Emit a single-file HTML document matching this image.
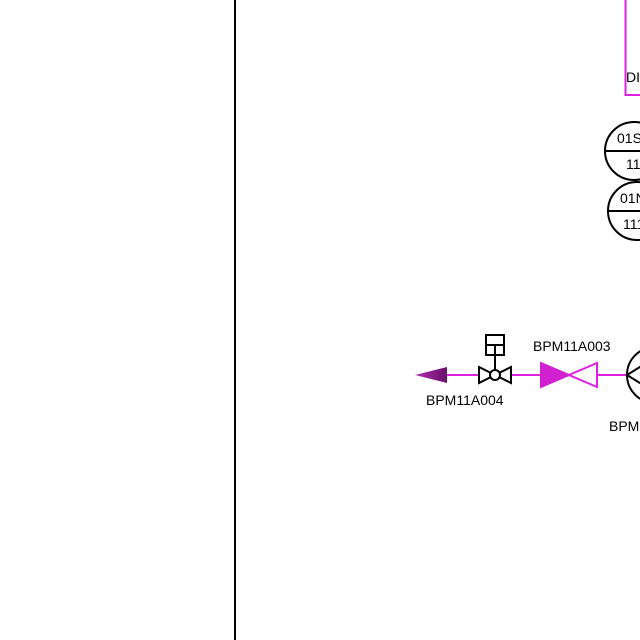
<!DOCTYPE html>
<html><head><style>body{margin:0;background:#fff}svg{display:block}</style></head><body>
<svg width="640" height="640" viewBox="0 0 640 640" xmlns="http://www.w3.org/2000/svg" font-family="Liberation Sans, sans-serif" font-size="14">
<line x1="235" y1="0" x2="235" y2="640" stroke="#000" stroke-width="2"/>
<path d="M640 95 H625.5 V0" fill="none" stroke="#e020e0" stroke-width="2"/>
<text x="626" y="82" font-size="14">DI</text>
<circle cx="634" cy="151" r="29" fill="#fff" stroke="#000" stroke-width="2"/>
<line x1="605" y1="151" x2="640" y2="151" stroke="#000" stroke-width="2"/>
<text x="617" y="143" font-size="14">01S</text>
<text x="626" y="169" font-size="14">11</text>
<circle cx="637" cy="211" r="29" fill="#fff" stroke="#000" stroke-width="2"/>
<line x1="608" y1="211" x2="640" y2="211" stroke="#000" stroke-width="2"/>
<text x="620" y="203" font-size="14">01N</text>
<text x="623" y="229" font-size="14">111</text>
<line x1="447" y1="375" x2="627" y2="375" stroke="#e020e0" stroke-width="2"/>
<defs><linearGradient id="g" x1="0" x2="1"><stop offset="0" stop-color="#b030b0"/><stop offset="1" stop-color="#6a106a"/></linearGradient></defs>
<path d="M415 375 L447 367 L447 383 Z" fill="url(#g)"/>
<path d="M479 367 L479 383 L511 367 L511 383 Z" fill="#fff" stroke="#000" stroke-width="2"/>
<circle cx="495" cy="375" r="5" fill="#fff" stroke="#000" stroke-width="2"/>
<line x1="495" y1="345" x2="495" y2="370" stroke="#000" stroke-width="2"/>
<rect x="486" y="335" width="18" height="20" fill="none" stroke="#000" stroke-width="2"/>
<line x1="486" y1="345" x2="504" y2="345" stroke="#000" stroke-width="2"/>
<path d="M541 363 L569 375 L541 387 Z" fill="#d020d0" stroke="#d020d0" stroke-width="2"/>
<path d="M597 363 L569 375 L597 387 Z" fill="#fff" stroke="#e020e0" stroke-width="2"/>
<circle cx="655" cy="375" r="28" fill="#fff" stroke="#000" stroke-width="2"/>
<line x1="627" y1="375" x2="648" y2="362" stroke="#000" stroke-width="2"/>
<line x1="627" y1="375" x2="648" y2="388" stroke="#000" stroke-width="2"/>
<text x="533" y="351">BPM11A003</text>
<text x="426" y="405">BPM11A004</text>
<text x="609" y="431">BPM11</text>
</svg>
</body></html>
